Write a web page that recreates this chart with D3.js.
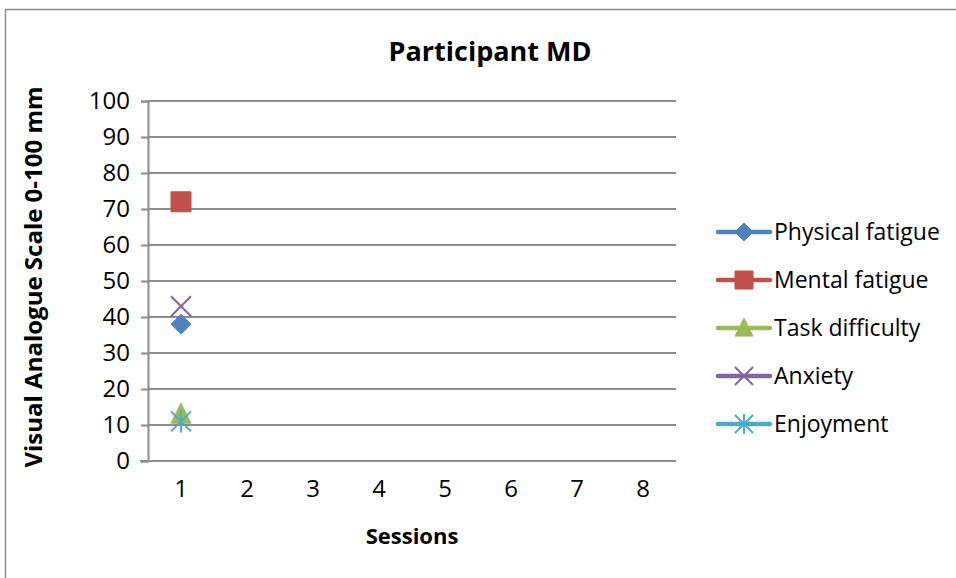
<!DOCTYPE html>
<html>
<head>
<meta charset="utf-8">
<script src="https://cdn.jsdelivr.net/npm/d3@7"></script>
<style>
  body { margin: 0; background: #fff; }
  text { font-family: "Open Sans", Lato, sans-serif; fill: #000; }
</style>
</head>
<body>
<script>
const WIDTH = 956
const HEIGHT = 578

const SESSIONS = ['1', '2', '3', '4', '5', '6', '7', '8']
const SERIES = ['Physical fatigue', 'Mental fatigue', 'Task difficulty', 'Anxiety', 'Enjoyment']
const COLORS = ['#4F81BD', '#C0504D', '#9BBB59', '#8064A2', '#4BACC6']
const MARKERS = ['diamond', 'square', 'triangle', 'x', 'star']
// only session 1 has values
const PHYSICAL = [38]
const MENTAL = [72]
const TASK = [13]
const ANXIETY = [43]
const ENJOYMENT = [11]
const Y_TICKS = [0, 10, 20, 30, 40, 50, 60, 70, 80, 90, 100]

const VALUES = [PHYSICAL, MENTAL, TASK, ANXIETY, ENJOYMENT]

const FONT = '"Open Sans", Lato, sans-serif'

const svg = d3.select('body')
  .append('svg')
  .attr('width', WIDTH)
  .attr('height', HEIGHT)

// chart frame
svg.append('path')
  .attr('d', `M5.5,${HEIGHT} V9.5 H${WIDTH}`)
  .attr('fill', 'none')
  .attr('stroke', '#8c8c8c')
  .attr('stroke-width', 1.5)

const plot = { left: 148, right: 676, top: 101, bottom: 461 }

const x = d3.scaleBand()
  .domain(SESSIONS)
  .range([plot.left, plot.right])

const y = d3.scaleLinear()
  .domain([0, 100])
  .range([plot.bottom, plot.top])

// gridlines
svg.append('g')
  .selectAll('line')
  .data(Y_TICKS.slice(1))
  .enter()
  .append('line')
  .attr('x1', plot.left)
  .attr('x2', plot.right)
  .attr('y1', d => y(d))
  .attr('y2', d => y(d))
  .attr('stroke', '#8c8c8c')
  .attr('stroke-width', 2)

// y axis
const yAxis = svg.append('g')
  .attr('transform', `translate(${plot.left},0)`)
  .call(d3.axisLeft(y).tickValues(Y_TICKS).tickSize(7).tickPadding(11))
yAxis.select('.domain').attr('stroke', '#8c8c8c').attr('stroke-width', 2)
yAxis.selectAll('.tick line').attr('stroke', '#8c8c8c').attr('stroke-width', 2)
yAxis.selectAll('.tick text')
  .attr('font-size', 24)
  .attr('font-family', FONT)
  .attr('fill', '#000')

// x axis
const xAxis = svg.append('g')
  .attr('transform', `translate(0,${plot.bottom})`)
  .call(d3.axisBottom(x).tickSize(0).tickPadding(19))
xAxis.select('.domain')
  .attr('d', `M${plot.left - 8},0H${plot.right}`)
  .attr('stroke', '#8c8c8c').attr('stroke-width', 2)
xAxis.selectAll('.tick text')
  .attr('font-size', 24)
  .attr('font-family', FONT)
  .attr('fill', '#000')

// markers
const markerPath = (type, s) => {
  switch (type) {
    case 'diamond':
      return `M0,${-s}L${s},0L0,${s}L${-s},0Z`
    case 'square':
      return `M${-s},${-s}H${s}V${s}H${-s}Z`
    case 'triangle':
      return `M0,${-s * 1.1}L${s},${s * 0.9}L${-s},${s * 0.9}Z`
    case 'x':
      return `M${-s},${-s}L${s},${s}M${s},${-s}L${-s},${s}`
    case 'star':
      return `M${-s},${-s}L${s},${s}M${s},${-s}L${-s},${s}M0,${-s * 1.1}V${s * 1.1}`
  }
}
const isLine = t => t === 'x' || t === 'star'
const markerSize = [10, 10, 10, 10, 10]

SERIES.forEach((name, i) => {
  svg.append('g')
    .selectAll('path')
    .data(VALUES[i])
    .enter()
    .append('path')
    .attr('transform', (d, j) => `translate(${x(SESSIONS[j]) + x.bandwidth() / 2},${y(d)})`)
    .attr('d', markerPath(MARKERS[i], markerSize[i]))
    .attr('fill', isLine(MARKERS[i]) ? 'none' : COLORS[i])
    .attr('stroke', COLORS[i])
    .attr('stroke-width', isLine(MARKERS[i]) ? 2 : 1)
})

// legend
const legend = svg.append('g')
  .attr('transform', 'translate(716,232)')

const ROW = 48

const rows = legend.selectAll('g')
  .data(SERIES)
  .enter()
  .append('g')
  .attr('transform', (d, i) => `translate(0,${i * ROW})`)

rows.append('line')
  .attr('x1', 2)
  .attr('x2', 54)
  .attr('stroke', (d, i) => COLORS[i])
  .attr('stroke-width', 4.5)
  .attr('stroke-linecap', 'round')

rows.append('path')
  .attr('transform', 'translate(28,0)')
  .attr('d', (d, i) => markerPath(MARKERS[i], markerSize[i] - 1))
  .attr('fill', (d, i) => isLine(MARKERS[i]) ? 'none' : COLORS[i])
  .attr('stroke', (d, i) => COLORS[i])
  .attr('stroke-width', (d, i) => isLine(MARKERS[i]) ? 2 : 1)

rows.append('text')
  .attr('x', 58)
  .attr('dy', '0.35em')
  .attr('font-size', 23)
  .text(d => d)

// titles
svg.append('text')
  .attr('x', 490)
  .attr('y', 61)
  .attr('text-anchor', 'middle')
  .attr('font-size', 27)
  .attr('font-weight', 'bold')
  .text('Participant MD')

svg.append('text')
  .attr('x', (plot.left + plot.right) / 2)
  .attr('y', 544)
  .attr('text-anchor', 'middle')
  .attr('font-size', 22)
  .attr('font-weight', 'bold')
  .text('Sessions')

svg.append('text')
  .attr('transform', `translate(42,${(plot.top + plot.bottom) / 2 - 4}) rotate(-90)`)
  .attr('text-anchor', 'middle')
  .attr('font-size', 24)
  .attr('font-weight', 'bold')
  .text('Visual Analogue Scale 0-100 mm')
</script>
</body>
</html>
